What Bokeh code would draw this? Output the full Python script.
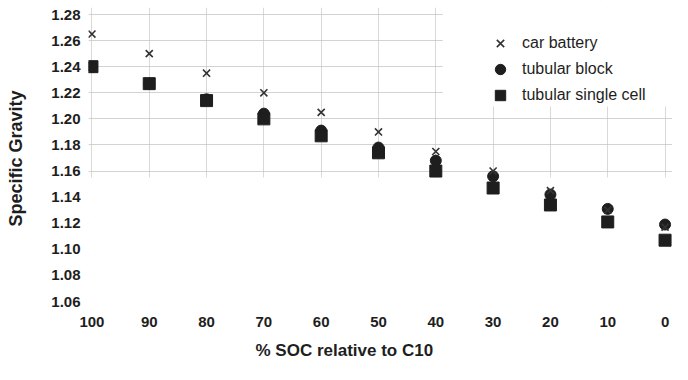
from bokeh.plotting import figure
from bokeh.models import (Range1d, FixedTicker, NumeralTickFormatter, Legend, LegendItem,
                          Title, BoxAnnotation)
from bokeh.embed import file_html
from bokeh.resources import INLINE

# ---- data ----
soc = [100, 90, 80, 70, 60, 50, 40, 30, 20, 10, 0]
car_battery = [1.265, 1.250, 1.235, 1.220, 1.205, 1.190, 1.175, 1.160, 1.145, 1.130, 1.117]
tubular_block = [1.240, 1.227, 1.215, 1.204, 1.191, 1.178, 1.168, 1.156, 1.142, 1.131, 1.119]
tubular_single = [1.240, 1.227, 1.214, 1.200, 1.187, 1.174, 1.160, 1.147, 1.134, 1.121, 1.107]
y_ticks = [1.06, 1.08, 1.10, 1.12, 1.14, 1.16, 1.18, 1.20, 1.22, 1.24, 1.26, 1.28]
series_names = ["car battery", "tubular block", "tubular single cell"]

FONT = "Liberation Sans"
INK = "#1e1e1e"

p = figure(width=672, height=372,
           x_range=Range1d(100.6, -1.3), y_range=Range1d(1.05387, 1.28537),
           output_backend="svg", toolbar_location=None,
           min_border_left=88, min_border_right=0, min_border_top=7, min_border_bottom=63)
p.outline_line_color = None
p.background_fill_color = "white"

# axes
p.xaxis.ticker = FixedTicker(ticks=soc)
p.yaxis.ticker = FixedTicker(ticks=y_ticks)
p.yaxis.formatter = NumeralTickFormatter(format="0.00")
for ax in (p.xaxis[0], p.yaxis[0]):
    ax.axis_line_color = None
    ax.major_tick_line_color = None
    ax.major_tick_out = 0
    ax.major_tick_in = 0
    ax.minor_tick_line_color = None
    ax.minor_tick_out = 0
    ax.major_label_text_font = FONT
    ax.major_label_text_font_style = "bold"
    ax.major_label_text_font_size = "15px"
    ax.major_label_text_color = INK
p.xaxis.major_label_standoff = 7
p.yaxis.major_label_standoff = 8
p.yaxis.axis_label = "Specific Gravity"
p.yaxis.axis_label_text_font = FONT
p.yaxis.axis_label_text_font_style = "bold"
p.yaxis.axis_label_text_font_size = "18px"
p.yaxis.axis_label_text_color = INK
p.yaxis.axis_label_standoff = 22

# grid (faint, scanned look)
p.xgrid.grid_line_color = "#c0c0c0"
p.xgrid.grid_line_alpha = 0.6
p.ygrid.grid_line_color = "#c0c0c0"
p.ygrid.grid_line_alpha = 0.7

# white masks where the scan shows no grid
p.add_layout(BoxAnnotation(top=1.155, fill_color="white", fill_alpha=1.0,
                           line_color=None, level="underlay"))
p.add_layout(BoxAnnotation(left=38.8, bottom=1.2095, fill_color="white", fill_alpha=1.0,
                           line_color=None, level="underlay"))

# x-axis title
p.add_layout(Title(text="% SOC relative to C10", align="left", offset=167,
                   text_font=FONT, text_font_style="bold", text_font_size="17px",
                   text_color=INK, standoff=19), "below")

# glyphs
r_block = p.scatter(soc, tubular_block, marker="circle", size=11,
                    fill_color=INK, line_color=INK)
r_single = p.scatter(soc, tubular_single, marker="square", size=12,
                     fill_color=INK, line_color=INK)
r_car = p.scatter(soc, car_battery, marker="x", size=10,
                  line_color="#333333", line_width=1.6)

legend = Legend(items=[LegendItem(label=series_names[0], renderers=[r_car]),
                       LegendItem(label=series_names[1], renderers=[r_block]),
                       LegendItem(label=series_names[2], renderers=[r_single])],
                location=(399, 201), padding=0, margin=0, spacing=0,
                glyph_width=26, glyph_height=26, label_height=26, label_standoff=9,
                label_text_font=FONT, label_text_font_size="16px", label_text_color=INK,
                background_fill_alpha=0, border_line_color=None)
p.add_layout(legend)

open("out.html", "w").write(file_html(p, INLINE))
